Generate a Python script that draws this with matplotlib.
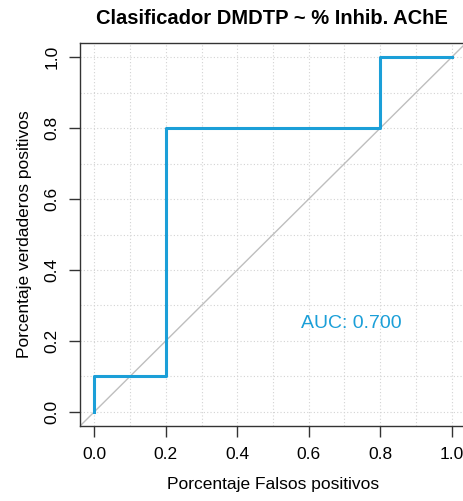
import matplotlib
matplotlib.use("Agg")
import matplotlib.pyplot as plt

fpr = [0.0, 0.0, 0.2, 0.2, 0.8, 0.8, 1.0]
tpr = [0.0, 0.1, 0.1, 0.8, 0.8, 1.0, 1.0]
ticks = [0.0, 0.2, 0.4, 0.6, 0.8, 1.0]
tick_labels = ["0.0", "0.2", "0.4", "0.6", "0.8", "1.0"]
auc = 0.700
title = "Clasificador DMDTP ~ % Inhib. AChE"

plt.rcParams['font.family'] = ['Liberation Sans', 'DejaVu Sans']

fig = plt.figure(figsize=(4.64, 5.01), dpi=100)
ax = fig.add_axes([80/464, 75/501, 386/464, 383/501])
ax.set_xlim(-0.04, 1.04)
ax.set_ylim(-0.04, 1.04)

grid = [i / 10 for i in range(11)]
for g in grid:
    ax.axvline(g, color='#D3D3D3', lw=0.8, ls=(0, (1, 2)), zorder=0)
    ax.axhline(g, color='#D3D3D3', lw=0.8, ls=(0, (1, 2)), zorder=0)

ax.axline((0, 0), (1, 1), color='#BEBEBE', lw=1.0, zorder=1)
ax.plot(fpr, tpr, color='#1B9FD8', lw=2.2, zorder=2)

ax.text(0.72, 0.25, f"AUC: {auc:.3f}", color='#1B9FD8', fontsize=14,
        ha='center', va='center')

ax.set_xticks(ticks)
ax.set_xticklabels(tick_labels, fontsize=12.5)
ax.set_yticks(ticks)
ax.set_yticklabels(tick_labels, fontsize=12.5, rotation=90, va='center')
ax.tick_params(direction='out', length=8, width=1, color='#333333', pad=7)
for s in ax.spines.values():
    s.set_color('#333333')
    s.set_linewidth(1)

ax.set_xlabel("Porcentaje Falsos positivos", fontsize=12.5, labelpad=11)
ax.set_ylabel("Porcentaje verdaderos positivos", fontsize=12.5, labelpad=9)
fig.text(272/464, 1 - 19/501, title, fontsize=14.5, fontweight='bold',
         ha='center', va='center')

fig.savefig("out.png", dpi=100)
